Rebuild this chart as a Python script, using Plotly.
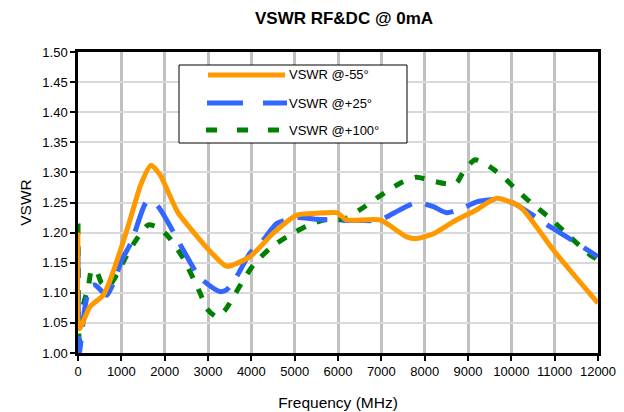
import plotly.graph_objects as go

# Frequency (MHz) / VSWR
f_m55 = [0, 30, 277, 585, 740, 1008, 1200, 1450, 1685, 1900, 2300, 2815, 3100, 3430, 3970, 4507, 5046, 5500, 5969, 6200, 6970, 7585, 7815, 8200, 8660, 9200, 9660, 10200, 10970, 11500, 12000]
v_m55 = [1.20, 1.04, 1.077, 1.096, 1.121, 1.177, 1.221, 1.28, 1.312, 1.295, 1.234, 1.188, 1.165, 1.144, 1.16, 1.199, 1.229, 1.232, 1.233, 1.221, 1.221, 1.193, 1.190, 1.198, 1.218, 1.238, 1.257, 1.243, 1.171, 1.125, 1.083]

f_p25 = [0, 30, 162, 277, 392, 662, 815, 1008, 1238, 1585, 1815, 2046, 2430, 2815, 3277, 3430, 3662, 3970, 4277, 4585, 5046, 5508, 6508, 6970, 7431, 7815, 8200, 8508, 8854, 9200, 9623, 10046, 10431, 10892, 11392, 12000]
v_p25 = [1.175, 1.00, 1.077, 1.110, 1.113, 1.096, 1.116, 1.154, 1.185, 1.251, 1.246, 1.221, 1.171, 1.125, 1.102, 1.105, 1.127, 1.166, 1.188, 1.215, 1.225, 1.222, 1.220, 1.221, 1.238, 1.250, 1.243, 1.233, 1.240, 1.251, 1.255, 1.249, 1.232, 1.210, 1.188, 1.160]

f_p100 = [0, 30, 123, 239, 315, 431, 546, 700, 893, 1085, 1315, 1623, 1892, 2123, 2430, 2815, 2970, 3200, 3392, 3585, 3815, 4046, 4431, 4815, 5277, 5662, 6123, 6508, 6970, 7431, 7815, 8162, 8508, 8739, 8892, 9162, 9508, 9854, 10046, 10431, 10892, 11354, 11815, 12000]
v_p100 = [1.215, 1.02, 1.080, 1.110, 1.138, 1.135, 1.116, 1.110, 1.130, 1.157, 1.185, 1.213, 1.207, 1.190, 1.157, 1.100, 1.074, 1.060, 1.071, 1.093, 1.121, 1.146, 1.174, 1.193, 1.211, 1.221, 1.222, 1.238, 1.261, 1.282, 1.292, 1.286, 1.281, 1.283, 1.301, 1.321, 1.309, 1.290, 1.276, 1.251, 1.224, 1.193, 1.163, 1.155]

names = ["VSWR @-55°", "VSWR @+25°", "VSWR @+100°"]
colors = ["#FF9900", "#3366FF", "#008000"]
dashes = ["solid", "30px,14px", "10px,12px"]
x_ticks = list(range(0, 12001, 1000))
y_ticks = [1.00, 1.05, 1.10, 1.15, 1.20, 1.25, 1.30, 1.35, 1.40, 1.45, 1.50]

fig = go.Figure()
for fx, vy, n, c, d in zip([f_m55, f_p25, f_p100][::-1], [v_m55, v_p25, v_p100][::-1], names[::-1], colors[::-1], dashes[::-1]):
    fig.add_trace(go.Scatter(x=fx, y=vy, mode="lines", name=n,
                             line=dict(color=c, width=5, dash=d, shape="spline", smoothing=0.6),
                             showlegend=False))

FONT = "Liberation Sans, Arial, sans-serif"
fig.update_layout(
    width=624, height=412,
    margin=dict(l=78, r=26, t=52, b=59),
    paper_bgcolor="white", plot_bgcolor="white",
    font=dict(family=FONT, size=13, color="black"),
    title=dict(text="<b>VSWR RF&DC @ 0mA</b>", x=344/624, xanchor="center",
               y=1-18/412, yanchor="middle", font=dict(size=17, family=FONT)),
    xaxis=dict(range=[0, 12000], tickvals=x_ticks, ticktext=[str(v) for v in x_ticks],
               tickfont=dict(size=13), automargin=False,
               showgrid=True, gridcolor="#c0c0c0", gridwidth=2.5,
               showline=True, linecolor="black", linewidth=2.5, mirror=True,
               ticks="outside", ticklen=5, tickcolor="black", tickwidth=1.5,
               title=dict(text="Frequency (MHz)", font=dict(size=15.5), standoff=19),
               zeroline=False),
    yaxis=dict(range=[1.0, 1.5], tickvals=y_ticks, ticktext=[f"{v:.2f}" for v in y_ticks],
               tickfont=dict(size=13), automargin=False,
               showgrid=True, gridcolor="#d9d9d9", gridwidth=2,
               showline=True, linecolor="black", linewidth=2.5, mirror=True,
               ticks="outside", ticklen=5, tickcolor="black", tickwidth=1.5,
               title=dict(text="VSWR", font=dict(size=15.5), standoff=7),
               zeroline=False),
)

# Custom legend box (pixel positions converted to paper fractions)
pl, pr, pt, pb = 78, 598, 52, 353
def px(x):
    return (x - pl) / (pr - pl)
def py(y):
    return (pb - y) / (pb - pt)

fig.add_shape(type="rect", xref="paper", yref="paper",
              x0=px(179), x1=px(407), y0=py(143), y1=py(65),
              line=dict(color="black", width=1), fillcolor="white", layer="above")
leg_y = [75, 103, 130]
for n, c, d, yy in zip(names, colors, dashes, leg_y):
    if d == "solid":
        segs = [(208, 285)]
    elif n.endswith("+25°"):
        segs = [(207, 243), (263, 287)]
    else:
        segs = [(206, 217), (237, 248), (268, 279)]
    for a, b in segs:
        fig.add_shape(type="line", xref="paper", yref="paper",
                      x0=px(a), x1=px(b), y0=py(yy), y1=py(yy),
                      line=dict(color=c, width=5), layer="above")
    fig.add_annotation(xref="paper", yref="paper", x=px(287), y=py(yy),
                       text=n, showarrow=False, xanchor="left", yanchor="middle",
                       font=dict(size=13, family=FONT, color="black"))

fig.write_html("out.html")
